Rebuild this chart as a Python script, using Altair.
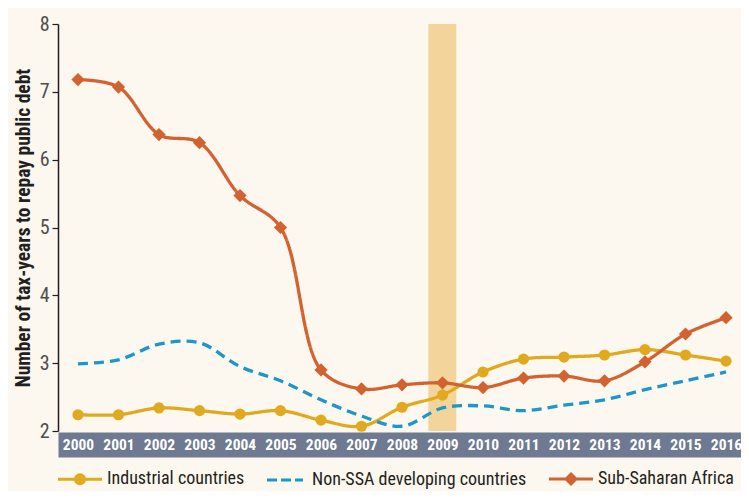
import altair as alt
import pandas as pd

years = list(range(2000, 2017))
series_names = ["Industrial countries", "Non-SSA developing countries", "Sub-Saharan Africa"]
industrial = [2.24, 2.24, 2.34, 2.30, 2.25, 2.30, 2.16, 2.07, 2.35, 2.53, 2.87, 3.06, 3.09, 3.12, 3.20, 3.12, 3.03]
non_ssa = [2.99, 3.05, 3.28, 3.30, 2.95, 2.74, 2.46, 2.22, 2.07, 2.34, 2.37, 2.30, 2.38, 2.46, 2.61, 2.74, 2.87]
ssa = [7.18, 7.07, 6.37, 6.25, 5.47, 5.00, 2.90, 2.62, 2.68, 2.71, 2.64, 2.78, 2.81, 2.74, 3.02, 3.43, 3.67]
colors = ["#e0a91e", "#1b97c9", "#d2622f"]
highlight_year = [2008.65, 2009.34]
y_ticks = [2, 3, 4, 5, 6, 7, 8]

rows = []
for name, vals in zip(series_names, [industrial, non_ssa, ssa]):
    for yr, v in zip(years, vals):
        rows.append({"year": yr, "value": v, "series": name})
df = pd.DataFrame(rows)
hl = pd.DataFrame({"x": [highlight_year[0]], "x2": [highlight_year[1]], "y": [8], "y2": [2]})

FONT = "'Liberation Sans Narrow', 'Roboto Condensed', 'Open Sans', sans-serif"
x_scale = alt.Scale(domain=[1999.506, 2016.37], nice=False, zero=False)
y_scale = alt.Scale(domain=[2, 8], nice=False, zero=False)

band_axis = alt.Axis(orient="bottom", values=years, title=None, grid=False,
                     domainColor="#6d7a91", domainWidth=25, offset=13.5,
                     ticks=False, labels=False, zindex=0)
label_axis = alt.Axis(orient="bottom", values=years, format="d", title=None, grid=False,
                      domain=False, offset=13.5, ticks=False, tickSize=0,
                      labelColor="white", labelFont=FONT,
                      labelFontSize=15.5, labelFontWeight="bold", labelBaseline="middle",
                      labelPadding=0, labelFlush=False, labelOverlap=False, zindex=2)
y_axis = alt.Axis(values=y_ticks, format="d", title="Number of tax-years to repay public debt",
                  grid=False, domainColor="#231f20", domainWidth=1.5,
                  tickColor="#231f20", tickSize=6, tickWidth=1.2,
                  labelFont=FONT, labelFontSize=20, labelColor="#4d4d4d", labelPadding=3,
                  titleFont=FONT, titleFontSize=19.5, titleFontWeight="bold",
                  titleColor="#231f20", titlePadding=6)

color_scale = alt.Scale(domain=series_names, range=colors)

rect = alt.Chart(hl).mark_rect(color="#f3d59c").encode(
    x=alt.X("x:Q", scale=x_scale, axis=band_axis),
    x2="x2:Q",
    y=alt.Y("y:Q", scale=y_scale, axis=y_axis),
    y2="y2:Q",
)

lines = alt.Chart(df).mark_line(interpolate="catmull-rom", strokeWidth=3.3).encode(
    x=alt.X("year:Q", scale=x_scale, axis=label_axis),
    y=alt.Y("value:Q", scale=y_scale),
    color=alt.Color("series:N", scale=color_scale, legend=None),
    strokeDash=alt.StrokeDash("series:N", legend=None,
                              scale=alt.Scale(domain=series_names, range=[[1, 0], [10, 6], [1, 0]])),
)

circles = alt.Chart(df).transform_filter(alt.datum.series == series_names[0]).mark_point(
    shape="circle", filled=True, size=125, opacity=1).encode(
    x=alt.X("year:Q", scale=x_scale, axis=None),
    y=alt.Y("value:Q", scale=y_scale),
    color=alt.Color("series:N", scale=color_scale, legend=None),
)

diamonds = alt.Chart(df).transform_filter(alt.datum.series == series_names[2]).mark_point(
    shape="diamond", filled=True, size=175, opacity=1).encode(
    x=alt.X("year:Q", scale=x_scale, axis=None),
    y=alt.Y("value:Q", scale=y_scale),
    color=alt.Color("series:N", scale=color_scale, legend=None),
)

p_ind = ("M-22,0L22,0 M1.5,0A1.5,1.5 0 1,1 -1.5,0A1.5,1.5 0 1,1 1.5,0 "
         "M4.5,0A4.5,4.5 0 1,1 -4.5,0A4.5,4.5 0 1,1 4.5,0")
p_non = "M-18,0L-8,0M-4,0L6,0M10,0L18,0"
p_ssa = "M-22,0L22,0 M0,-4.9L4.9,0L0,4.9L-4.9,0Z M0,-1.7L1.7,0L0,1.7L-1.7,0Z"

leg = alt.Legend(title=None, orient="none", direction="horizontal", columns=3,
                 legendX=13, legendY=446, symbolSize=4, symbolStrokeWidth=3, symbolOpacity=1,
                 labelFont=FONT, labelFontSize=18, labelColor="#231f20", labelLimit=500,
                 labelOffset=18, columnPadding=16, padding=0)

legend_layer = alt.Chart(df).transform_filter("false").mark_point(
    filled=False, strokeWidth=3, opacity=1).encode(
    x=alt.X("year:Q", scale=x_scale, axis=None),
    y=alt.Y("value:Q", scale=y_scale),
    stroke=alt.Stroke("series:N", scale=alt.Scale(domain=series_names, range=colors), legend=leg),
    shape=alt.Shape("series:N", scale=alt.Scale(domain=series_names, range=[p_ind, p_non, p_ssa]), legend=leg),
)

chart = alt.layer(rect, lines, circles, diamonds, legend_layer).resolve_axis(
    x="independent"
).resolve_scale(
    shape="independent", stroke="independent"
).resolve_legend(
    shape="independent", stroke="independent"
).properties(
    width=683, height=407,
    autosize=alt.AutoSizeParams(type="none"),
    padding={"left": 50, "top": 16, "right": 0, "bottom": 60},
    background="#fcf7ef",
).configure_view(stroke=None)

chart.save("out.html", embed_options={"renderer": "svg", "actions": False})
